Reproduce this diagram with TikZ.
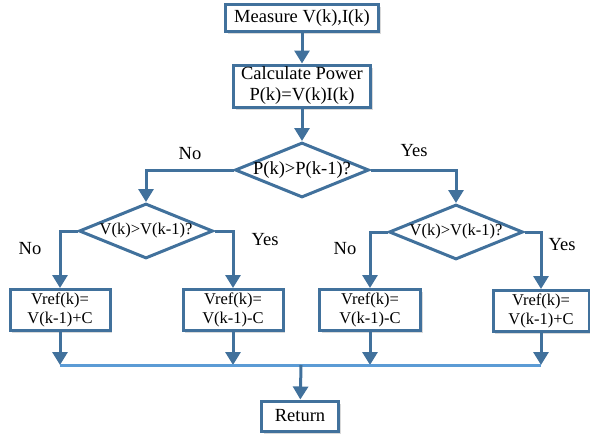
\documentclass[tikz,border=0pt]{standalone}
\usepackage{fontspec}
\setmainfont{Liberation Serif}
\usetikzlibrary{shapes.geometric,arrows.meta,shadows}
\definecolor{flowblue}{HTML}{41719C}
\definecolor{joinblue}{HTML}{5B9BD5}
\newcommand\bigtxt{\fontsize{18.5}{21}\selectfont}
\newcommand\smalltxt{\fontsize{16.5}{19.5}\selectfont}

\begin{document}
\begin{tikzpicture}[x=1pt,y=-1pt,
  box/.style={draw=flowblue,line width=3pt,fill=white,align=center,inner sep=1pt,
    drop shadow={shadow xshift=2pt,shadow yshift=-2.5pt,opacity=.3}},
  test/.style={diamond,draw=flowblue,line width=3pt,fill=white,inner sep=-2pt,
    aspect=2.45,minimum width=134pt,minimum height=55pt},
  flow/.style={draw=flowblue,line width=3pt,-{Triangle[width=15pt,length=13pt]}},
  lbl/.style={font=\bigtxt}]
  \useasboundingbox (0,0) rectangle (590,439);

  % main column
  \node[box,font=\bigtxt,minimum width=153pt,minimum height=27pt] (meas) at (302,18) {Measure V(k),I(k)};
  \node[box,font=\bigtxt,minimum width=137pt,minimum height=42pt] (calc) at (302,86) {Calculate Power\\P(k)=V(k)I(k)};
  \node[test,font=\bigtxt] (cmp) at (302,170) {P(k)>P(k-1)?};

  % second level decisions
  \node[test,font=\smalltxt] (dvl) at (146,231) {V(k)>V(k-1)?};
  \node[test,font=\smalltxt] (dvr) at (456,232) {V(k)>V(k-1)?};

  % update boxes
  \node[box,font=\smalltxt,minimum width=100pt,minimum height=41pt] (upa) at (60,310) {Vref(k)=\\V(k-1)+C};
  \node[box,font=\smalltxt,minimum width=100pt,minimum height=41pt] (upb) at (233,310) {Vref(k)=\\V(k-1)-C};
  \node[box,font=\smalltxt,minimum width=101pt,minimum height=41pt] (upc) at (370,310) {Vref(k)=\\V(k-1)-C};
  \node[box,font=\smalltxt,minimum width=96pt,minimum height=41pt] (upd) at (541,311) {Vref(k)=\\V(k-1)+C};

  \node[box,font=\bigtxt,minimum width=77pt,minimum height=30pt] (ret) at (300,416) {Return};

  % branch labels
  \node[lbl] (no1) at (190,154) {No};
  \node[lbl] (yes1) at (414,151) {Yes};
  \node[lbl] (no2) at (30,249) {No};
  \node[lbl] (yes2) at (265,240) {Yes};
  \node[lbl] (no3) at (345,249) {No};
  \node[lbl] (yes3) at (562,245) {Yes};

  % connectors
  \draw[flow] (meas) -- (calc);
  \draw[flow] (calc) -- (cmp);
  \draw[flow] (cmp.west) -| (dvl.north);
  \draw[flow] (cmp.east) -| (dvr.north);
  \draw[flow] (dvl.west) -| (upa.north);
  \draw[flow] (dvl.east) -| (upb.north);
  \draw[flow] (dvr.west) -| (upc.north);
  \draw[flow] (dvr.east) -| (upd.north);

  \coordinate (join) at (301,365);
  \foreach \u in {upa,upb,upc,upd}
    \draw[flow] (\u) -- (\u |- join);
  \draw[joinblue,line width=3pt] (upa |- join) -- (upd |- join);
  \draw[flow] (join) -- (ret);
\end{tikzpicture}
\end{document}
